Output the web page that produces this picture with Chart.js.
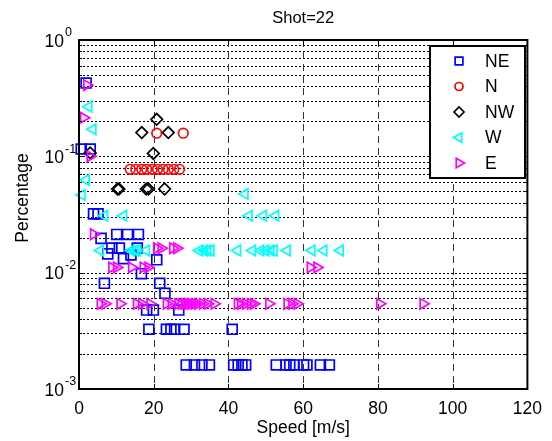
<!DOCTYPE html>
<html><head><meta charset="utf-8">
<script src="https://cdn.jsdelivr.net/npm/chart.js@4.4.0/dist/chart.umd.min.js"></script>
<style>html,body{margin:0;padding:0;background:#fff;}canvas{display:block;}</style>
</head><body>
<canvas id="c" width="552" height="441"></canvas>
<script>
const TITLE = 'Shot=22';
const X_LABEL = 'Speed [m/s]';
const Y_LABEL = 'Percentage';
const SERIES_NAMES = ['NE', 'N', 'NW', 'W', 'E'];
const X_TICKS = [0, 20, 40, 60, 80, 100, 120];
const Y_DECADES = [0.001, 0.01, 0.1, 1];
const Y_EXPONENTS = ['-3', '-2', '-1', '0'];

const NE_SPEED = [0.6, 1.9, 3.0, 3.9, 5.1, 5.9, 10.1, 13.0, 15.9, 8.8, 10.8, 15.6, 7.7, 13.9, 11.9, 20.8, 16.7, 6.8, 21.6, 23.0, 18.1, 19.9, 26.7,
  18.7, 23.4, 24.6, 25.6, 28.1, 41.0,
  28.7, 30.9, 32.9, 34.9, 41.4, 42.6, 43.6, 44.6, 52.8, 55.4, 56.4, 57.5, 60.1, 61.0, 64.6, 67.0];
const NE_PCT = [0.1156, 0.427, 0.1156, 0.032, 0.032, 0.0197, 0.0213, 0.0213, 0.0213, 0.0163, 0.0163, 0.0163, 0.0145, 0.0142, 0.0132, 0.0129, 0.0098, 0.0081, 0.0081, 0.00665, 0.00477, 0.00477, 0.00477,
  0.00326, 0.00326, 0.00326, 0.00326, 0.00326, 0.00326,
  0.00161, 0.00161, 0.00161, 0.00161, 0.00161, 0.00161, 0.00161, 0.00161, 0.00161, 0.00161, 0.00161, 0.00161, 0.00161, 0.00161, 0.00161, 0.00161];

const N_SPEED = [20.8, 27.9, 13.7, 15.2, 16.8, 18.1, 19.6, 21.0, 22.5, 23.9, 25.4, 26.9];
const N_PCT = [0.158, 0.158, 0.0774, 0.0774, 0.0774, 0.0774, 0.0774, 0.0774, 0.0774, 0.0774, 0.0774, 0.0774];

const NW_SPEED = [3.0, 20.8, 16.8, 23.9, 19.9, 10.3, 10.7, 18.0, 18.6, 22.9];
const NW_PCT = [0.107, 0.208, 0.16, 0.16, 0.106, 0.0524, 0.0524, 0.0524, 0.0524, 0.0524];

const W_SPEED = [2.6, 3.7, 1.9, 0.8, 6.8, 11.9, 44.4, 45.5, 49.3, 52.6,
  5.7, 14.0, 15.0, 15.6, 18.0, 32.2, 33.5, 34.4, 35.3, 42.4, 46.4, 48.6, 49.9, 51.3, 52.2, 55.7, 62.3, 65.5, 69.9];
const W_PCT = [0.267, 0.171, 0.0626, 0.0465, 0.0309, 0.0309, 0.0475, 0.0309, 0.0309, 0.0309,
  0.0155, 0.0155, 0.0155, 0.0155, 0.0155, 0.0155, 0.0155, 0.0155, 0.0155, 0.0155, 0.0155, 0.0155, 0.0155, 0.0155, 0.0155, 0.0155, 0.0155, 0.0155, 0.0155];

const E_SPEED = [2.1, 1.25, 3.0, 3.9, 20.8, 22.0, 25.1, 26.2, 8.8, 10.1, 14.1, 17.2, 18.5, 61.9, 63.7,
  5.7, 7.0, 11.0, 15.4, 16.8, 19.0, 23.4, 24.7, 26.5, 27.4, 28.3, 29.2, 30.0, 30.9, 31.8, 33.1, 34.4, 36.2,
  42.4, 43.3, 44.6, 45.9, 46.8, 50.8, 55.7, 57.0, 58.4, 80.5, 92.1];
const E_PCT = [0.41, 0.215, 0.1, 0.0214, 0.0162, 0.0162, 0.0162, 0.0162, 0.0111, 0.0111, 0.0111, 0.0111, 0.0111, 0.0111, 0.0111,
  0.0054, 0.0054, 0.0054, 0.0054, 0.0054, 0.0054, 0.0054, 0.0054, 0.0054, 0.0054, 0.0054, 0.0054, 0.0054, 0.0054, 0.0054, 0.0054, 0.0054, 0.0054,
  0.0054, 0.0054, 0.0054, 0.0054, 0.0054, 0.0054, 0.0054, 0.0054, 0.0054, 0.0054, 0.0054];

const FONT = '"Liberation Sans", Arial, Helvetica, sans-serif';
const FS = 17.5;

const STYLES = [
  {color: '#0000ff', style: 'rect', radius: 7, rotation: 0, lr: 5.5},
  {color: '#ff0000', style: 'circle', radius: 4.8, rotation: 0, lr: 4},
  {color: '#000000', style: 'rectRot', radius: 5.8, rotation: 0, lr: 5},
  {color: '#00ffff', style: 'triangle', radius: 6, rotation: 270, lr: 5.5},
  {color: '#ff00ff', style: 'triangle', radius: 6, rotation: 90, lr: 5.5}
];
const SPEEDS = [NE_SPEED, N_SPEED, NW_SPEED, W_SPEED, E_SPEED];
const PCTS = [NE_PCT, N_PCT, NW_PCT, W_PCT, E_PCT];

function pts(xs, ys) { return xs.map((v, i) => ({x: v, y: ys[i]})); }

const datasets = SERIES_NAMES.map((name, i) => ({
  label: name,
  data: pts(SPEEDS[i], PCTS[i]),
  showLine: false,
  borderColor: STYLES[i].color,
  backgroundColor: 'rgba(0,0,0,0)',
  pointBorderColor: STYLES[i].color,
  pointBackgroundColor: 'rgba(0,0,0,0)',
  pointStyle: STYLES[i].style,
  pointRadius: STYLES[i].radius,
  pointHoverRadius: STYLES[i].radius,
  pointRotation: STYLES[i].rotation,
  pointBorderWidth: 1.7,
  pointHoverBorderWidth: 1.7,
  order: 5 - i,
  clip: false
}));

function drawMarker(ctx, st, r, x, y) {
  ctx.save();
  ctx.strokeStyle = st.color;
  ctx.fillStyle = 'rgba(0,0,0,0)';
  ctx.lineWidth = 1.7;
  if (Chart.helpers && Chart.helpers.drawPoint) {
    Chart.helpers.drawPoint(ctx, {pointStyle: st.style, rotation: st.rotation, radius: r, borderWidth: 1.7}, x, y);
  }
  ctx.restore();
}

const matlabPlugin = {
  id: 'matlab',
  beforeDatasetsDraw(chart) {
    const {ctx, chartArea: a, scales: {x, y}} = chart;
    ctx.save();
    ctx.lineWidth = 1;
    // horizontal dotted grid (log minor + major)
    ctx.strokeStyle = '#000';
    ctx.setLineDash([2, 2]);
    for (let d = 0; d < Y_DECADES.length - 1; d++) {
      for (let k = 1; k <= 9; k++) {
        const v = Y_DECADES[d] * k;
        if (d === 0 && k === 1) continue;
        const py = Math.round(y.getPixelForValue(v)) + 0.5;
        ctx.beginPath(); ctx.moveTo(a.left, py); ctx.lineTo(a.right, py); ctx.stroke();
      }
    }
    // vertical dashed grid
    ctx.strokeStyle = '#333';
    ctx.setLineDash([7, 5]);
    for (const t of X_TICKS) {
      if (t === X_TICKS[0] || t === X_TICKS[X_TICKS.length - 1]) continue;
      const px = Math.round(x.getPixelForValue(t)) + 0.5;
      ctx.beginPath(); ctx.moveTo(px, a.top); ctx.lineTo(px, a.bottom); ctx.stroke();
    }
    ctx.restore();
  },
  afterDraw(chart) {
    const {ctx, chartArea: a, scales: {x, y}} = chart;
    ctx.save();
    ctx.setLineDash([]);
    ctx.strokeStyle = '#000';
    // ticks
    ctx.lineWidth = 1;
    for (const t of X_TICKS) {
      const px = Math.round(x.getPixelForValue(t)) + 0.5;
      ctx.beginPath(); ctx.moveTo(px, a.bottom); ctx.lineTo(px, a.bottom - 5);
      ctx.moveTo(px, a.top); ctx.lineTo(px, a.top + 5); ctx.stroke();
    }
    for (let d = 0; d < Y_DECADES.length - 1; d++) {
      for (let k = 1; k <= 9; k++) {
        const v = Y_DECADES[d] * k;
        const len = k === 1 ? 5 : 3;
        const py = Math.round(y.getPixelForValue(v)) + 0.5;
        ctx.beginPath(); ctx.moveTo(a.left, py); ctx.lineTo(a.left + len, py);
        ctx.moveTo(a.right, py); ctx.lineTo(a.right - len, py); ctx.stroke();
      }
    }
    // axes box
    ctx.lineWidth = 2;
    ctx.strokeRect(a.left, a.top, a.right - a.left, a.bottom - a.top);
    // y tick labels 10^n
    ctx.fillStyle = '#000';
    Y_DECADES.forEach((v, i) => {
      const py = y.getPixelForValue(v);
      ctx.textBaseline = 'middle';
      ctx.textAlign = 'right';
      ctx.font = FS + 'px ' + FONT;
      ctx.fillText('10', 64, py + 2);
      ctx.textAlign = 'left';
      ctx.font = '12.5px ' + FONT;
      ctx.fillText(Y_EXPONENTS[i], 65, py - 7);
    });
    // y axis label
    ctx.save();
    ctx.translate(23, 198);
    ctx.rotate(-Math.PI / 2);
    ctx.font = FS + 'px ' + FONT;
    ctx.textAlign = 'center';
    ctx.textBaseline = 'middle';
    ctx.fillText(Y_LABEL, 0, 0);
    ctx.restore();
    // title
    ctx.font = '16.5px ' + FONT;
    ctx.textAlign = 'center';
    ctx.textBaseline = 'middle';
    ctx.fillText(TITLE, (a.left + a.right) / 2, 18);
    // legend
    const lx = 430, ly = 46, lw = 95, lh = 132;
    ctx.fillStyle = '#fff';
    ctx.fillRect(lx, ly, lw, lh);
    ctx.lineWidth = 2;
    ctx.strokeStyle = '#000';
    ctx.strokeRect(lx, ly, lw, lh);
    const rows = [61, 86.5, 112, 137.5, 163];
    SERIES_NAMES.forEach((name, i) => {
      drawMarker(ctx, STYLES[i], STYLES[i].lr, 459, rows[i]);
      ctx.fillStyle = '#000';
      ctx.font = FS + 'px ' + FONT;
      ctx.textAlign = 'left';
      ctx.textBaseline = 'middle';
      ctx.fillText(name, 485, rows[i] + 1);
    });
    ctx.restore();
  }
};

new Chart(document.getElementById('c'), {
  type: 'scatter',
  data: {datasets},
  options: {
    responsive: false,
    devicePixelRatio: 1,
    animation: false,
    events: [],
    layout: {padding: {top: 40, right: 22, left: 0, bottom: 0}},
    plugins: {legend: {display: false}, tooltip: {enabled: false}, title: {display: false}},
    scales: {
      x: {
        type: 'linear', min: 0, max: 120,
        afterBuildTicks: s => { s.ticks = X_TICKS.map(v => ({value: v})); },
        afterFit: s => { s.height = 52; },
        grid: {display: false, drawTicks: false},
        border: {display: false},
        ticks: {color: '#000', font: {family: FONT, size: FS}, padding: 10, maxRotation: 0, autoSkip: false},
        title: {display: true, text: X_LABEL, color: '#000', font: {family: FONT, size: FS}, padding: {top: 0, bottom: 2.5}}
      },
      y: {
        type: 'logarithmic', min: 0.001, max: 1,
        afterBuildTicks: s => { s.ticks = Y_DECADES.map(v => ({value: v})); },
        afterFit: s => { s.width = 79; },
        grid: {display: false, drawTicks: false},
        border: {display: false},
        ticks: {display: false}
      }
    }
  },
  plugins: [matlabPlugin]
});
</script>
</body></html>
